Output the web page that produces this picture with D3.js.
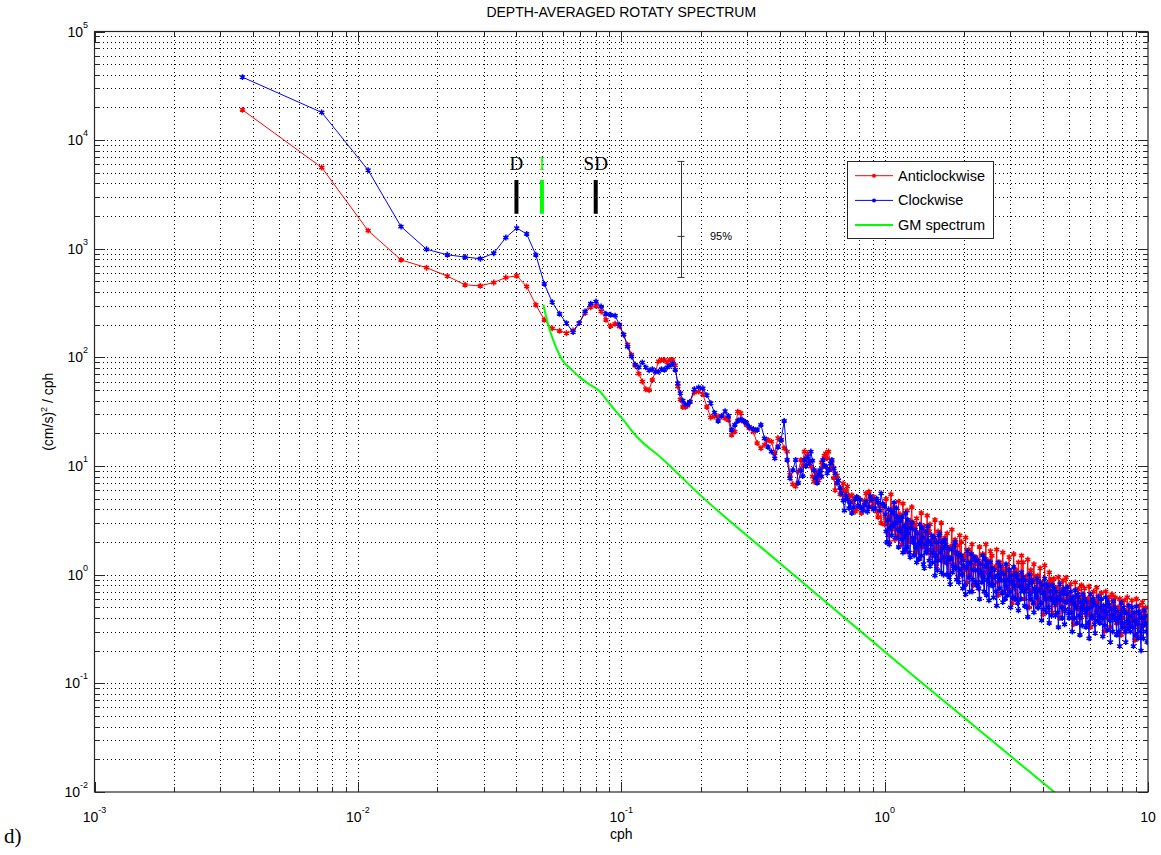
<!DOCTYPE html>
<html>
<head>
<meta charset="utf-8">
<script src="https://cdn.jsdelivr.net/npm/d3@7"></script>
<style>
  html, body { margin: 0; padding: 0; background: #fff; }
  svg { display: block; font-family: "Liberation Sans", Arial, Helvetica, sans-serif; }
</style>
</head>
<body>
<svg id="chart" width="1161" height="855"></svg>
<script>
// Spectral resolution of the depth-averaged ADCP record (cph)
const df = 0.003645;

// ---- low band: every bin up to ~0.18 cph ----
const lowBins = [
  1,2,3,4,5,6,7,8,9,10,11,12,13,14,15,16,17,18,19,20,21,22,23,24,25,
  26,27,28,29,30,31,32,33,34,35,36,37,38,39,40,41,42,43,44,45,46,47,48,49,50
];
const lowAnti = [
  19000,5600,1470,790,670,560,466,456,489,544,564,450,305,222,185,176,167,177,207,256,
  290,299,265,222,195,204,193,162,131,106,84,71,60,51,50,62,74,92,95,95,
  90,95,95,85,54,41,35,35,36,39
];
const lowClock = [
  38000,18000,5300,1600,990,880,840,810,910,1270,1550,1370,880,475,323,252,207,171,207,265,
  312,327,294,252,247,242,200,162,126,102,86,81,90,81,76,78,74,74,78,77,
  81,84,88,77,58,47,40,37,37,39
];

// ---- mid band: 0.19 - 1 cph ----
const midBins = [
  52,54,56,58,60,62,64,66,68,70,72,74,76,78,80,82,84,87,90,93,96,99,102,105,108,111,114,117,120,123,126,129,
  132,134,136,138,140,142,144,146,148,150,152,154,156,158,160,162,164,166,168,171,173,176,178,181,183,
  186,188,191,193,196,198,201,203,206,209,212,215,218,221,224,227,230,233,236,239,242,245,249,252,256,
  259,263,266,270
];
const midAnti = [
  47.5,48.5,46,35,28,28.6,28.6,28.6,27.6,26.6,19.4,20.8,31.7,30.7,25.7,24,22.3,20.8,16.3,14.6,
  15.7,17.4,16.8,13.1,18.1,17.4,14.6,13.6,8.3,6.8,6.5,8.9,
  11.4,10.2,13.6,12.0,13.1,11.0,9.9,8.0,7.2,8.9,8.3,7.4,8.6,10.8,9.9,12.5,13.1,11.8,13.6,9.4,10.5,7.8,6.0,8.2,7.4,
  5.5,6.0,6.9,5.2,5.9,6.5,5.3,4.7,5.4,4.6,3.8,4.0,5.1,4.9,3.7,4.2,4.8,5.6,4.5,5.8,4.9,4.2,5.2,4.6,3.8,
  3.4,4.3,3.0,4.4
];
const midClock = [
  51,53,52,45,38,31,26,29,32,29,21.5,24,26,27,26,25,23,22,21.5,24,
  18,15,13.6,11.8,15,17.4,26,11.4,7.7,9.2,11.4,7.0,
  9.2,8.1,11.4,10.0,12.2,10.6,13.6,11.2,9.2,7.8,7.0,8.4,9.2,8.0,11.4,10.1,9.9,8.6,9.2,10.6,11.4,9.5,8.6,7.0,7.4,
  6.3,5.6,4.8,3.9,5.4,4.9,4.1,4.6,3.7,4.2,5.0,5.2,4.3,4.9,4.1,3.9,4.4,4.7,3.8,4.2,5.3,4.9,4.0,4.1,5.0,
  4.6,3.9,5.6,4.5
];

// ---- high band: 1 - 10 cph ----
const highBins = [
  274,276,278,280,282,284,286,288,290,292,294,296,298,300,302,304,306,308,310,312,
  314,316,318,320,322,324,326,328,330,332,334,336,338,340,343,345,348,350,353,355,
  358,360,363,365,368,370,373,375,378,380,383,385,388,390,393,395,398,400,403,405,
  408,411,414,417,420,423,426,429,432,435,438,441,444,447,450,453,456,459,462,465,
  468,471,474,477,480,483,487,490,494,497,501,504,508,511,515,518,522,525,529,532,
  536,539,543,546,550,553,557,561,565,569,573,577,581,585,589,593,597,601,605,609,
  613,617,621,625,629,633,638,642,647,651,656,660,665,669,674,678,683,687,692,696,
  701,706,711,716,721,726,731,736,741,746,751,756,761,766,771,776,782,787,793,798,
  804,809,815,820,826,831,837,842,848,854,860,866,872,878,884,890,896,902,908,914,
  920,926,933,939,946,952,959,965,972,978,985,991,998,1005,1012,1019,1026,1033,1040,1047,
  1054,1061,1068,1075,1082,1089,1097,1104,1112,1119,1127,1134,1142,1149,1157,1165,1173,1181,1189,1197,
  1205,1213,1221,1229,1237,1245,1254,1262,1271,1279,1288,1296,1305,1314,1323,1332,1341,1350,1359,1368,
  1377,1386,1396,1405,1415,1424,1434,1443,1453,1463,1473,1483,1493,1503,1513,1523,1533,1543,1554,1564,
  1575,1585,1596,1606,1617,1628,1639,1650,1661,1672,1683,1694,1706,1717,1729,1740,1752,1764,1776,1788,
  1800,1812,1824,1836,1848,1860,1873,1885,1898,1911,1924,1937,1950,1963,1976,1989,2003,2016,2030,2043,
  2057,2071,2085,2099,2113,2127,2141,2155,2170,2184,2199,2214,2229,2244,2259,2274,2289,2304,2320,2335,
  2351,2367,2383,2399,2415,2431,2447,2463,2480,2496,2513,2530,2547,2564,2581,2598,2616,2633,2651,2669,
  2687,2705,2723,2743
];
const highAnti = [
  2.9,3.3,5.0,3.0,3.3,2.3,2.0,3.5,5.5,2.8,2.6,3.7,4.2,2.1,3.1,3.0,2.2,2.6,4.7,2.3,
  3.6,2.2,1.9,2.7,4.5,2.5,2.5,2.9,1.65,2.3,3.9,2.0,2.9,2.8,2.1,3.1,4.2,2.0,3.0,2.8,
  1.6,2.2,3.3,1.7,2.4,2.4,1.4,2.1,3.7,1.8,2.0,2.4,2.8,2.0,1.8,2.3,3.5,1.6,2.5,2.5,
  2.9,1.7,1.5,2.0,2.2,2.2,3.2,1.5,1.2,1.8,2.5,1.4,1.7,2.1,3.0,1.8,1.35,1.9,2.0,2.2,
  1.3,1.5,2.4,1.3,1.0,1.7,1.8,1.8,2.6,1.25,1.15,1.6,2.1,1.2,1.6,1.85,0.95,1.45,2.3,1.3,
  2.0,1.15,1.0,1.4,1.5,1.5,2.2,1.1,0.85,1.3,1.7,1.0,1.15,1.55,1.9,1.2,0.8,1.35,1.4,1.45,
  1.3,1.25,0.75,1.1,1.8,1.0,1.0,1.3,1.55,0.9,0.7,1.2,1.9,1.05,1.2,1.35,0.85,1.1,1.65,1.0,
  1.5,0.95,0.8,1.15,1.15,1.2,1.7,0.85,0.65,1.05,1.3,0.9,0.9,1.15,1.6,1.0,0.7,1.1,1.05,1.2,
  0.75,0.95,1.45,0.82,0.95,1.05,0.55,0.88,1.55,0.75,1.1,1.1,0.65,0.98,1.3,0.8,0.85,1.0,1.5,0.92,
  1.3,0.8,0.6,0.95,0.95,0.9,1.38,0.72,0.5,0.85,1.1,1.0,0.7,0.88,1.25,0.75,0.55,0.95,0.85,0.98,
  0.6,0.75,1.15,0.7,0.8,0.85,0.43,0.72,1.22,0.64,0.72,0.8,0.5,0.75,1.05,0.6,0.9,0.88,0.45,0.7,
  0.92,0.64,0.52,0.68,0.76,0.55,0.95,0.66,0.4,0.6,0.66,0.72,0.88,0.58,0.46,0.68,0.94,0.56,0.6,0.66,
  0.48,0.58,0.82,0.54,0.6,0.62,0.35,0.56,0.85,0.5,0.55,0.63,0.74,0.48,0.4,0.6,0.8,0.52,0.64,0.6,
  0.75,0.5,0.42,0.56,0.6,0.44,0.78,0.54,0.33,0.52,0.55,0.58,0.7,0.42,0.38,0.57,0.76,0.47,0.5,0.55,
  0.4,0.48,0.68,0.45,0.5,0.5,0.3,0.46,0.7,0.41,0.46,0.52,0.62,0.4,0.33,0.49,0.66,0.43,0.55,0.48,
  0.62,0.42,0.36,0.45,0.5,0.37,0.6,0.44,0.28,0.4,0.46,0.47,0.58,0.34,0.3,0.45,0.62,0.39,0.42,0.46,
  0.34,0.4,0.58,0.37,0.42,0.43,0.25,0.39,0.6,0.35,0.38,0.44,0.52,0.33,0.27,0.42,0.56,0.36,0.46,0.42,
  0.5,0.34,0.3,0.4
];
const highClock = [
  4.3,3.6,2.5,2.0,3.2,4.0,1.9,2.7,3.9,2.3,2.8,3.7,4.6,3.0,2.2,4.1,3.4,2.6,1.8,3.3,
  3.1,2.5,2.1,3.4,1.6,2.2,2.8,1.7,3.7,2.6,1.8,3.2,2.4,1.6,1.45,2.7,3.0,2.2,2.0,1.5,
  2.6,1.8,1.3,2.4,1.9,1.4,2.9,2.0,1.5,2.7,2.2,1.25,1.15,1.9,2.5,1.6,1.7,2.8,2.05,1.35,
  1.2,1.9,2.3,1.3,1.6,2.2,0.98,1.5,2.0,1.1,1.35,2.3,2.4,1.6,1.05,2.0,1.75,1.0,1.45,2.1,
  1.9,1.3,1.0,1.75,1.45,0.95,0.82,1.4,1.7,1.05,1.2,1.85,2.0,1.15,0.9,1.6,1.55,0.85,1.1,1.5,
  1.5,1.0,0.75,1.35,1.2,0.8,0.66,1.15,1.65,1.25,0.95,0.7,1.3,1.55,0.7,0.9,1.1,1.45,1.4,0.85,
  0.8,1.1,1.35,0.75,0.6,1.25,1.05,0.85,1.5,0.95,0.7,1.4,1.2,0.65,0.9,1.3,0.58,1.0,1.3,0.8,
  1.15,0.8,0.62,1.1,0.95,0.7,0.52,0.98,1.3,0.9,0.75,1.2,1.05,0.68,0.56,1.0,0.88,0.6,1.25,0.78,
  0.65,0.9,1.1,0.7,0.5,0.98,0.85,0.62,1.18,0.8,0.6,1.02,0.95,0.55,0.47,0.88,0.78,0.6,1.05,0.72,
  0.95,0.7,0.52,0.88,0.75,0.5,0.41,0.8,1.0,0.66,0.6,0.9,0.85,0.55,0.45,0.75,0.7,0.62,0.92,0.5,
  0.5,0.72,0.85,0.55,0.38,0.8,0.68,0.48,0.92,0.6,0.45,0.82,0.78,0.5,0.36,0.7,0.62,0.42,0.8,0.58,
  0.75,0.55,0.42,0.7,0.6,0.45,0.33,0.62,0.82,0.58,0.5,0.4,0.68,0.74,0.35,0.48,0.56,0.66,0.77,0.44,
  0.4,0.58,0.7,0.45,0.3,0.62,0.55,0.4,0.72,0.5,0.36,0.66,0.62,0.42,0.28,0.56,0.5,0.34,0.66,0.48,
  0.6,0.45,0.33,0.56,0.48,0.36,0.26,0.5,0.66,0.42,0.4,0.6,0.55,0.35,0.29,0.52,0.45,0.38,0.63,0.42,
  0.36,0.5,0.6,0.4,0.27,0.52,0.46,0.34,0.62,0.44,0.31,0.56,0.52,0.38,0.24,0.48,0.42,0.3,0.57,0.4,
  0.5,0.38,0.28,0.46,0.4,0.3,0.22,0.42,0.55,0.36,0.33,0.5,0.46,0.3,0.24,0.44,0.37,0.32,0.52,0.36,
  0.3,0.42,0.5,0.33,0.22,0.45,0.38,0.28,0.51,0.36,0.26,0.46,0.44,0.3,0.2,0.4,0.34,0.26,0.47,0.35,
  0.42,0.3,0.24,0.36
];

// Garrett-Munk reference spectrum
const gmFreq = [0.0506,0.0528,0.0560,0.0603,0.0639,0.0697,0.0761,0.0830,0.0880,0.0932,
                0.1018,0.1144,0.1423,0.1991,0.4003,1.323,4.405,10];
const gmSpec = [305,200,131,91.6,79.6,65.5,56,48.5,40.7,34.1,
                26.6,18.7,11.8,5.43,1.276,0.111,0.01,0.00194];

// Tidal / inertial frequency markers
const markFreq = [0.04, 0.05, 0.08];
const markLabel = ["D", "I", "SD"];
const markColor = ["#000000", "#00ff00", "#000000"];
const markSpan = [2100, 4300];

// 95% confidence interval bar
const ciFreq = 0.1686;
const ciSpan = [545, 1300, 6370];
const ciLabel = "95%";

// Axis decades
const xDecades = [-3, -2, -1, 0, 1];
const yDecades = [-2, -1, 0, 1, 2, 3, 4, 5];

const seriesNames = ["Anticlockwise", "Clockwise", "GM spectrum"];
const seriesColors = ["#ff0000", "#0000ff", "#00ff00"];

// ---------------------------------------------------------------
const bins = lowBins.concat(midBins, highBins);
const anticlockwise = lowAnti.concat(midAnti, highAnti);
const clockwise = lowClock.concat(midClock, highClock);

const box = { l: 94.5, r: 1148, t: 31.5, b: 792 };
const x = d3.scaleLog().domain([1e-3, 10]).range([box.l, box.r]);
const y = d3.scaleLog().domain([1e-2, 1e5]).range([box.b, box.t]);
const svg = d3.select("#chart");

const crisp = v => Math.round(v) + 0.5;
const isDecade = v => Math.abs(Math.log10(v) - Math.round(Math.log10(v))) < 1e-9;

// dotted grid (major and minor)
const grid = svg.append("g").attr("stroke", "#000").attr("stroke-width", 1)
  .attr("stroke-dasharray", "1,3").attr("shape-rendering", "crispEdges");
x.ticks().filter(v => v > 1e-3 * 1.0001 && v < 10 * 0.9999).forEach(v => {
  grid.append("line").attr("x1", crisp(x(v))).attr("x2", crisp(x(v)))
    .attr("y1", box.t).attr("y2", box.b);
});
y.ticks().filter(v => v > 1e-2 * 1.0001 && v < 1e5 * 0.9999).forEach(v => {
  grid.append("line").attr("y1", crisp(y(v))).attr("y2", crisp(y(v)))
    .attr("x1", box.l).attr("x2", box.r);
});

// tick marks on all four sides
const ticks = svg.append("g").attr("stroke", "#262626").attr("stroke-width", 1)
  .attr("shape-rendering", "crispEdges");
x.ticks().forEach(v => {
  const len = isDecade(v) ? 10 : 5.5, px = crisp(x(v));
  ticks.append("line").attr("x1", px).attr("x2", px).attr("y1", box.b).attr("y2", box.b - len);
  ticks.append("line").attr("x1", px).attr("x2", px).attr("y1", box.t).attr("y2", box.t + len);
});
y.ticks().forEach(v => {
  const len = isDecade(v) ? 10 : 5.5, py = crisp(y(v));
  ticks.append("line").attr("y1", py).attr("y2", py).attr("x1", box.l).attr("x2", box.l + len);
  ticks.append("line").attr("y1", py).attr("y2", py).attr("x1", box.r).attr("x2", box.r - len);
});

// tick labels
const xl = svg.append("g").attr("font-size", 14).attr("fill", "#000");
xDecades.forEach(e => {
  const t = xl.append("text").attr("x", x(Math.pow(10, e))).attr("y", 822)
    .attr("text-anchor", "middle");
  t.append("tspan").text("10");
  if (e !== 1) t.append("tspan").attr("dy", -9).attr("font-size", 9).text(String(e));
});
const yl = svg.append("g").attr("font-size", 14).attr("fill", "#000");
yDecades.forEach(e => {
  const t = yl.append("text").attr("x", 88).attr("y", y(Math.pow(10, e)) + 5)
    .attr("text-anchor", "end");
  t.append("tspan").text("10");
  t.append("tspan").attr("dy", -9).attr("font-size", 9).text(String(e));
});

// series
svg.append("clipPath").attr("id", "plotclip").append("rect")
  .attr("x", box.l).attr("y", box.t).attr("width", box.r - box.l).attr("height", box.b - box.t);
const plot = svg.append("g").attr("clip-path", "url(#plotclip)");
const line = d3.line().x(d => x(d.f)).y(d => y(d.v));

function drawSpectrum(values, color) {
  const pts = bins.map((k, i) => ({ f: k * df, v: values[i] }));
  plot.append("path").datum(pts).attr("d", line)
    .attr("fill", "none").attr("stroke", color).attr("stroke-width", 1);
  const sym = d3.symbol(d3.symbolAsterisk, 24);
  plot.append("g").selectAll("path").data(pts).join("path")
    .attr("transform", d => `translate(${x(d.f)},${y(d.v)})`)
    .attr("d", sym).attr("fill", "none").attr("stroke", color).attr("stroke-width", 1.5);
  plot.append("g").selectAll("circle").data(pts).join("circle")
    .attr("cx", d => x(d.f)).attr("cy", d => y(d.v)).attr("r", 1.6).attr("fill", color);
}
drawSpectrum(anticlockwise, seriesColors[0]);
drawSpectrum(clockwise, seriesColors[1]);

const gmPts = gmFreq.map((f, i) => ({ f, v: gmSpec[i] }));
plot.append("path").datum(gmPts)
  .attr("d", d3.line().x(d => x(d.f)).y(d => y(d.v)).curve(d3.curveMonotoneX))
  .attr("fill", "none").attr("stroke", seriesColors[2]).attr("stroke-width", 2);

// tidal and inertial frequency markers
markFreq.forEach((f, i) => {
  svg.append("line").attr("x1", x(f)).attr("x2", x(f))
    .attr("y1", y(markSpan[0])).attr("y2", y(markSpan[1]))
    .attr("stroke", markColor[i]).attr("stroke-width", 4);
  svg.append("text").attr("x", x(f)).attr("y", y(markSpan[1]) - 10)
    .attr("text-anchor", "middle").attr("font-family", "'Liberation Serif', 'Times New Roman', serif")
    .attr("font-size", 19).attr("fill", markColor[i]).text(markLabel[i]);
});

// confidence interval
const ci = svg.append("g").attr("stroke", "#333").attr("stroke-width", 1);
ci.append("line").attr("x1", crisp(x(ciFreq))).attr("x2", crisp(x(ciFreq)))
  .attr("y1", y(ciSpan[0])).attr("y2", y(ciSpan[2]));
ciSpan.forEach(v => {
  ci.append("line").attr("x1", x(ciFreq) - 3.5).attr("x2", x(ciFreq) + 3.5)
    .attr("y1", y(v)).attr("y2", y(v));
});
svg.append("text").attr("x", x(ciFreq) + 29).attr("y", y(ciSpan[1]) + 4)
  .attr("font-size", 11).attr("fill", "#000").text(ciLabel);

// axes box
svg.append("rect").attr("x", box.l).attr("y", box.t)
  .attr("width", box.r - box.l).attr("height", box.b - box.t)
  .attr("fill", "none").attr("stroke", "#262626").attr("stroke-width", 1.2);

// legend
const lg = svg.append("g").attr("transform", "translate(847.5,161.5)");
lg.append("rect").attr("width", 146).attr("height", 77)
  .attr("fill", "#fff").attr("stroke", "#262626").attr("stroke-width", 1);
seriesNames.forEach((name, i) => {
  const yy = 14.2 + i * 24.7;
  lg.append("line").attr("x1", 7.5).attr("x2", 45.5).attr("y1", yy).attr("y2", yy)
    .attr("stroke", seriesColors[i]).attr("stroke-width", i === 2 ? 2 : 1);
  if (i < 2) lg.append("circle").attr("cx", 26.5).attr("cy", yy).attr("r", 2).attr("fill", seriesColors[i]);
  lg.append("text").attr("x", 50.5).attr("y", yy + 5).attr("font-size", 14.5)
    .attr("fill", "#000").text(name);
});

// titles
svg.append("text").attr("x", (box.l + box.r) / 2).attr("y", 17)
  .attr("text-anchor", "middle").attr("font-size", 14).attr("fill", "#000")
  .text("DEPTH-AVERAGED ROTATY SPECTRUM");
svg.append("text").attr("x", (box.l + box.r) / 2).attr("y", 839)
  .attr("text-anchor", "middle").attr("font-size", 14).attr("fill", "#000").text("cph");
const ylab = svg.append("text").attr("transform", `translate(53,${(box.t + box.b) / 2}) rotate(-90)`)
  .attr("text-anchor", "middle").attr("font-size", 14).attr("fill", "#000");
ylab.append("tspan").text("(cm/s)");
ylab.append("tspan").attr("dy", -6).attr("font-size", 9).text("2");
ylab.append("tspan").attr("dy", 6).text(" / cph");

svg.append("text").attr("x", 4).attr("y", 843)
  .attr("font-family", "'Liberation Serif', 'Times New Roman', serif")
  .attr("font-size", 21).attr("fill", "#000").text("d)");
</script>
</body>
</html>
